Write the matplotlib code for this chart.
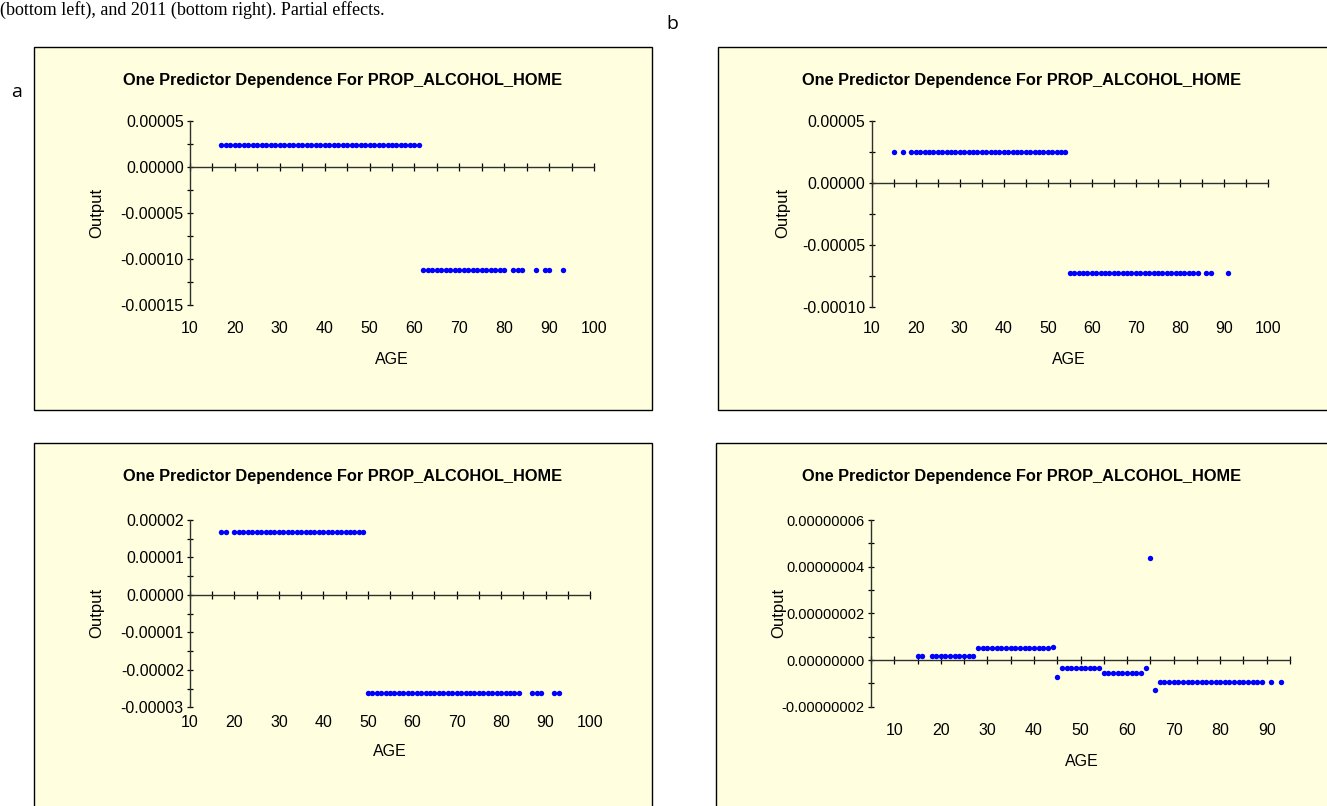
import matplotlib

matplotlib.use("Agg")
import matplotlib.pyplot as plt
from matplotlib.patches import Rectangle
from matplotlib.ticker import FixedLocator, MultipleLocator

W, H = 1327, 806
PANEL_BG = "#FFFFE0"
DOT = "#0000FF"
AXIS_COL = "#303030"

TITLE = "One Predictor Dependence For PROP_ALCOHOL_HOME"
CAPTION = "(bottom left), and 2011 (bottom right). Partial effects."

# ---- panel a (top left) ----
a_hi_age = [17, 18, 19, 20, 21, 22, 23, 24, 25, 26, 27, 28, 29, 30, 31, 32, 33, 34, 35, 36, 37, 38, 39,
            40, 41, 42, 43, 44, 45, 46, 47, 48, 49, 50, 51, 52, 53, 54, 55, 56, 57, 58, 59, 60, 61]
a_hi_out = 2.35e-5
a_lo_age = [62, 63, 64, 65, 66, 67, 68, 69, 70, 71, 72, 73, 74, 75, 76, 77, 78, 79, 80,
            82, 83, 84, 87, 89, 90, 93]
a_lo_out = -1.12e-4
a_yticks = [-0.00015, -0.0001, -0.00005, 0.0, 0.00005]

# ---- panel b (top right) ----
b_hi_age = [15, 17, 19, 20, 21, 22, 23, 24, 25, 26, 27, 28, 29, 30, 31, 32, 33, 34, 35, 36, 37, 38,
            39, 40, 41, 42, 43, 44, 45, 46, 47, 48, 49, 50, 51, 52, 53, 54]
b_hi_out = 2.45e-5
b_lo_age = [55, 56, 57, 58, 59, 60, 61, 62, 63, 64, 65, 66, 67, 68, 69, 70, 71, 72, 73, 74, 75, 76,
            77, 78, 79, 80, 81, 82, 83, 84, 86, 87, 91]
b_lo_out = -7.3e-5
b_yticks = [-0.0001, -0.00005, 0.0, 0.00005]

# ---- panel c (bottom left) ----
c_hi_age = [17, 18, 20, 21, 22, 23, 24, 25, 26, 27, 28, 29, 30, 31, 32, 33, 34, 35, 36, 37, 38, 39,
            40, 41, 42, 43, 44, 45, 46, 47, 48, 49]
c_hi_out = 1.68e-5
c_lo_age = [50, 51, 52, 53, 54, 55, 56, 57, 58, 59, 60, 61, 62, 63, 64, 65, 66, 67, 68, 69, 70, 71,
            72, 73, 74, 75, 76, 77, 78, 79, 80, 81, 82, 83, 84, 87, 88, 89, 92, 93]
c_lo_out = -2.62e-5
c_yticks = [-0.00003, -0.00002, -0.00001, 0.0, 0.00001, 0.00002]

# ---- panel d (bottom right), outputs in units of 1e-8 ----
d_age = [15, 16, 18, 19, 20, 21, 22, 23, 24, 25, 26, 27,
         28, 29, 30, 31, 32, 33, 34, 35, 36, 37, 38, 39, 40, 41, 42, 43, 44,
         45,
         46, 47, 48, 49, 50, 51, 52, 53, 54,
         55, 56, 57, 58, 59, 60, 61, 62, 63,
         64, 65, 66,
         67, 68, 69, 70, 71, 72, 73, 74, 75, 76, 77, 78, 79, 80, 81, 82, 83, 84, 85, 86, 87, 88, 89,
         91, 93]
d_out = [0.17, 0.17, 0.17, 0.17, 0.17, 0.17, 0.17, 0.17, 0.17, 0.17, 0.17, 0.17,
         0.50, 0.50, 0.50, 0.50, 0.50, 0.50, 0.50, 0.50, 0.50, 0.50, 0.50, 0.50, 0.50, 0.50, 0.50,
         0.50, 0.56,
         -0.73,
         -0.34, -0.34, -0.34, -0.34, -0.34, -0.34, -0.34, -0.34, -0.34,
         -0.54, -0.54, -0.54, -0.54, -0.54, -0.54, -0.54, -0.54, -0.54,
         -0.34, 4.38, -1.30,
         -0.93, -0.93, -0.93, -0.93, -0.93, -0.93, -0.93, -0.93, -0.93, -0.93, -0.93, -0.93,
         -0.93, -0.93, -0.93, -0.93, -0.93, -0.93, -0.93, -0.93, -0.93, -0.93, -0.93,
         -0.93, -0.93]
d_yticks = [-0.00000002, 0.0, 0.00000002, 0.00000004, 0.00000006]

plt.rcParams["font.family"] = ["Liberation Sans", "DejaVu Sans"]


def fx(x):
    return x / W


def fy(y):
    return 1 - y / H


def draw_panel(fig, box, rect, xlim, xlabels, ylim, yticks, ydigits, series,
               title_x, title_y, out_xy, age_xy, lab_y, ysize=11.5):
    x0, y0, x1, y1 = box
    fig.add_artist(Rectangle((fx(x0), fy(y1)), fx(x1) - fx(x0), fy(y0) - fy(y1),
                             transform=fig.transFigure, facecolor=PANEL_BG,
                             edgecolor="black", lw=1.0, zorder=-5))
    l, t, r, b = rect
    ax = fig.add_axes([fx(l), fy(b), fx(r) - fx(l), fy(t) - fy(b)])
    ax.patch.set_visible(False)
    for ages, outs in series:
        ax.plot(ages, outs, "o", color=DOT, ms=3.9, mew=0, clip_on=False, zorder=3)
    ax.set_xlim(*xlim)
    ax.set_ylim(*ylim)

    for s in ("top", "right"):
        ax.spines[s].set_visible(False)
    ax.spines["bottom"].set_position(("data", 0))
    for s in ("left", "bottom"):
        ax.spines[s].set_color(AXIS_COL)
        ax.spines[s].set_linewidth(1.0)

    ax.xaxis.set_major_locator(MultipleLocator(5))
    ax.tick_params(axis="x", direction="inout", length=6, width=0.9, labelbottom=False)
    ystep = yticks[1] - yticks[0]
    ax.yaxis.set_major_locator(FixedLocator(yticks))
    ax.yaxis.set_minor_locator(MultipleLocator(ystep / 2))
    ax.set_yticklabels([f"{v:.{ydigits}f}" for v in yticks])
    ax.tick_params(axis="y", which="both", direction="inout", length=5, width=0.9,
                   labelsize=ysize, pad=2)

    sec = ax.secondary_xaxis("bottom")
    sec.spines["bottom"].set_visible(False)
    sec.set_xticks(xlabels)
    sec.set_xticklabels([str(v) for v in xlabels])
    sec.tick_params(length=0, labelsize=11.5, pad=(lab_y - 8 - b) * 0.72)

    fig.text(fx(title_x), fy(title_y), TITLE, ha="center", va="center",
             fontsize=11.8, fontweight="bold")
    fig.text(fx(out_xy[0]), fy(out_xy[1]), "Output", ha="center", va="center",
             rotation=90, fontsize=12)
    fig.text(fx(age_xy[0]), fy(age_xy[1]), "AGE", ha="center", va="center", fontsize=11.5)
    return ax


fig = plt.figure(figsize=(W / 100, H / 100), dpi=100)
fig.patch.set_facecolor("white")

x_labels = [10, 20, 30, 40, 50, 60, 70, 80, 90, 100]
d_x_labels = [10, 20, 30, 40, 50, 60, 70, 80, 90]

draw_panel(fig, (34, 47, 652, 410), (190, 121, 594, 305), (10, 100), x_labels,
           (-0.00015, 0.00005), a_yticks, 5,
           [(a_hi_age, [a_hi_out] * len(a_hi_age)), (a_lo_age, [a_lo_out] * len(a_lo_age))],
           343, 80, (97, 213), (392, 360), 329)

draw_panel(fig, (718, 47, 1332, 410), (871.7, 120.7, 1268, 306.7), (10, 100), x_labels,
           (-0.0001, 0.00005), b_yticks, 5,
           [(b_hi_age, [b_hi_out] * len(b_hi_age)), (b_lo_age, [b_lo_out] * len(b_lo_age))],
           1022, 80, (783, 213), (1069, 360), 329)

draw_panel(fig, (34, 443, 652, 830), (190, 520, 590, 707.3), (10, 100), x_labels,
           (-0.00003, 0.00002), c_yticks, 5,
           [(c_hi_age, [c_hi_out] * len(c_hi_age)), (c_lo_age, [c_lo_out] * len(c_lo_age))],
           343, 476, (97, 613), (390, 752), 723)

draw_panel(fig, (716, 443, 1332, 830), (871, 520, 1290, 706.7), (5, 95), d_x_labels,
           (-0.00000002, 0.00000006), d_yticks, 8,
           [(d_age, [v * 1e-8 for v in d_out])],
           1022, 476, (779, 613), (1082, 761), 731, ysize=10.5)

fig.text(0.0, fy(15), CAPTION, ha="left", va="baseline", fontsize=13,
         family=["Liberation Serif", "DejaVu Serif"])
fig.text(fx(17), fy(92), "a", ha="center", va="center", fontsize=14, family=["Open Sans", "DejaVu Sans"])
fig.text(fx(672), fy(24), "b", ha="center", va="center", fontsize=14, family=["Open Sans", "DejaVu Sans"])

fig.savefig("out.png", dpi=100)
